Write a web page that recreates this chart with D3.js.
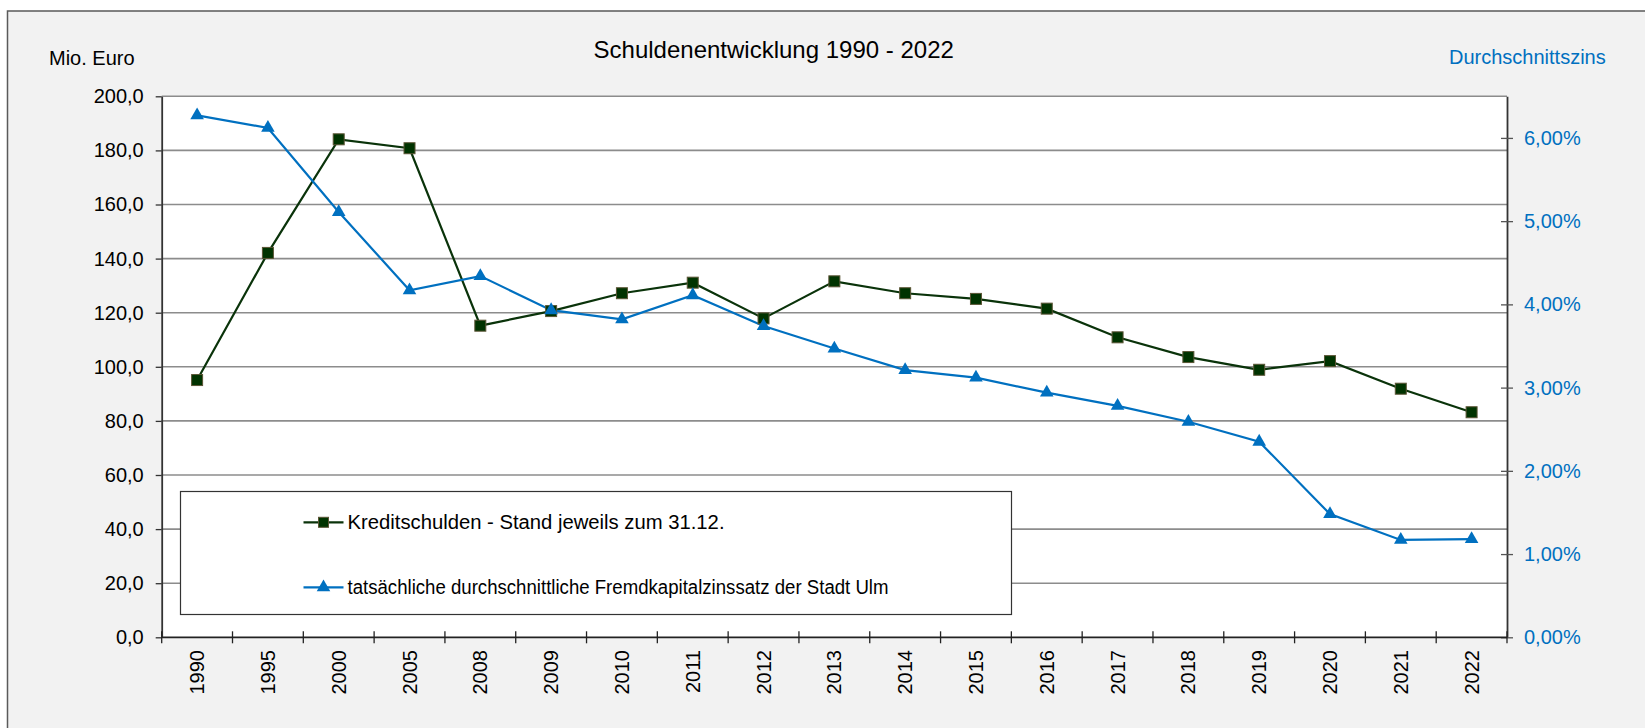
<!DOCTYPE html>
<html>
<head>
<meta charset="utf-8">
<script src="https://cdn.jsdelivr.net/npm/d3@7"></script>
<style>
  html, body { margin: 0; padding: 0; background: #fff; }
  svg { display: block; font-family: "Liberation Sans", Arial, sans-serif; }
</style>
</head>
<body>
<svg id="chart" width="1645" height="728"></svg>
<script>
const years = ["1990","1995","2000","2005","2008","2009","2010","2011","2012","2013","2014","2015","2016","2017","2018","2019","2020","2021","2022"];
const schulden = [95.1, 142.1, 184.1, 180.8, 115.2, 120.6, 127.2, 131.1, 117.9, 131.6, 127.2, 125.1, 121.5, 110.9, 103.6, 98.9, 102.1, 91.9, 83.2];
const zins = [6.27, 6.12, 5.11, 4.17, 4.34, 3.93, 3.82, 4.11, 3.74, 3.47, 3.21, 3.12, 2.94, 2.78, 2.59, 2.35, 1.48, 1.17, 1.18];
const leftTicks = [0, 20, 40, 60, 80, 100, 120, 140, 160, 180, 200];
const rightTicks = [0, 1, 2, 3, 4, 5, 6];
const title = "Schuldenentwicklung 1990 - 2022";
const leftTitle = "Mio. Euro";
const rightTitle = "Durchschnittszins";
const seriesNames = ["Kreditschulden - Stand jeweils zum 31.12.", "tatsächliche durchschnittliche Fremdkapitalzinssatz der Stadt Ulm"];

const GREEN = "#0a330a", SQFILL = "#003300", SQSTROKE = "#5b5535", BLUE = "#0070c0";
const L = 161.7, R = 1507, T = 96.3, B = 637.3;

const svg = d3.select("#chart");
svg.append("rect").attr("x", 0).attr("y", 0).attr("width", 1645).attr("height", 728).attr("fill", "#fff");
svg.append("rect").attr("x", 7.5).attr("y", 11).attr("width", 1700).attr("height", 800)
  .attr("fill", "#f2f2f2").attr("stroke", "#5a5a5a").attr("stroke-width", 1.5);

const x = d3.scaleBand().domain(years).range([L, R]).padding(0);
const yL = d3.scaleLinear().domain([0, 200]).range([B, T]);
const yR = d3.scaleLinear().domain([0, 6.5]).range([B, T]);
const fmtL = v => d3.format(".1f")(v).replace(".", ",");
const fmtR = v => d3.format(".2f")(v).replace(".", ",") + "%";

// plot area
svg.append("rect").attr("x", L).attr("y", T).attr("width", R - L).attr("height", B - T).attr("fill", "#fff");

// gridlines
svg.append("g").selectAll("line").data(leftTicks.filter(d => d > 0)).join("line")
  .attr("x1", L).attr("x2", R).attr("y1", d => yL(d)).attr("y2", d => yL(d))
  .attr("stroke", "#8c8c8c").attr("stroke-width", 1.6);

// left axis
const gL = svg.append("g").attr("transform", `translate(${L},0)`)
  .call(d3.axisLeft(yL).tickValues(leftTicks).tickFormat(fmtL).tickSizeInner(6).tickSizeOuter(0).tickPadding(12));
gL.select(".domain").attr("stroke", "#333").attr("stroke-width", 1.8);
gL.selectAll(".tick line").attr("stroke", "#333").attr("stroke-width", 1.3);
gL.selectAll(".tick text").attr("font-size", 20).attr("fill", "#000").attr("font-family", "Liberation Sans, Arial, sans-serif");

// right axis
const gR = svg.append("g").attr("transform", `translate(${R},0)`)
  .call(d3.axisRight(yR).tickValues(rightTicks).tickFormat(fmtR).tickSizeInner(6).tickSizeOuter(0).tickPadding(11));
gR.select(".domain").attr("stroke", "#333").attr("stroke-width", 1.8);
gR.selectAll(".tick line").attr("x1", -6).attr("stroke", "#555").attr("stroke-width", 1.3);
gR.selectAll(".tick text").attr("font-size", 20).attr("fill", BLUE).attr("font-family", "Liberation Sans, Arial, sans-serif");

// bottom axis
svg.append("line").attr("x1", L).attr("x2", R).attr("y1", B).attr("y2", B).attr("stroke", "#222").attr("stroke-width", 1.8);
const bounds = years.map(d => x(d)).concat([x(years[years.length - 1]) + x.bandwidth()]);
svg.append("g").selectAll("line").data(bounds).join("line")
  .attr("x1", d => d).attr("x2", d => d).attr("y1", B - 6).attr("y2", B + 6)
  .attr("stroke", "#222").attr("stroke-width", 1.3);
svg.append("g").selectAll("text").data(years).join("text")
  .attr("transform", d => `translate(${x(d) + x.bandwidth() / 2},650) rotate(-90)`)
  .attr("text-anchor", "end").attr("dy", "0.35em").attr("font-size", 20).attr("fill", "#000")
  .text(d => d);

// legend
svg.append("rect").attr("x", 180.5).attr("y", 491.5).attr("width", 831).attr("height", 123)
  .attr("fill", "#fff").attr("stroke", "#333").attr("stroke-width", 1.2);

// lines
const cx = (d, i) => x(years[i]) + x.bandwidth() / 2;
svg.append("path").datum(schulden)
  .attr("d", d3.line().x((d, i) => cx(d, i)).y(d => yL(d)))
  .attr("fill", "none").attr("stroke", GREEN).attr("stroke-width", 2.2);
svg.append("path").datum(zins)
  .attr("d", d3.line().x((d, i) => cx(d, i)).y(d => yR(d)))
  .attr("fill", "none").attr("stroke", BLUE).attr("stroke-width", 2.2);

const sq = 11;
svg.append("g").selectAll("rect").data(schulden).join("rect")
  .attr("x", (d, i) => cx(d, i) - sq / 2).attr("y", d => yL(d) - sq / 2)
  .attr("width", sq).attr("height", sq)
  .attr("fill", SQFILL).attr("stroke", SQSTROKE).attr("stroke-width", 1);
const tri = d3.symbol().type(d3.symbolTriangle).size(80);
svg.append("g").selectAll("path").data(zins).join("path")
  .attr("transform", (d, i) => `translate(${cx(d, i)},${yR(d)})`)
  .attr("d", tri).attr("fill", BLUE);

// legend entries
const legY = [522.3, 587.3];
const legW = [377, 541];
svg.append("line").attr("x1", 303.5).attr("x2", 343.5).attr("y1", legY[0]).attr("y2", legY[0]).attr("stroke", GREEN).attr("stroke-width", 2.2);
svg.append("rect").attr("x", 323.5 - 5).attr("y", legY[0] - 5).attr("width", 10).attr("height", 10).attr("fill", SQFILL).attr("stroke", SQSTROKE).attr("stroke-width", 1);
svg.append("line").attr("x1", 303.5).attr("x2", 343.5).attr("y1", legY[1]).attr("y2", legY[1]).attr("stroke", BLUE).attr("stroke-width", 2.2);
svg.append("path").attr("transform", `translate(323.5,${legY[1]})`).attr("d", tri).attr("fill", BLUE);
svg.append("g").selectAll("text").data(seriesNames).join("text")
  .attr("x", 347.5).attr("y", (d, i) => legY[i]).attr("dy", "0.35em")
  .attr("font-size", 20).attr("fill", "#000")
  .attr("textLength", (d, i) => legW[i]).attr("lengthAdjust", "spacingAndGlyphs")
  .text(d => d);

// titles
svg.append("text").attr("x", 773.7).attr("y", 57.7).attr("text-anchor", "middle")
  .attr("font-size", 24).attr("fill", "#000").text(title);
svg.append("text").attr("x", 49).attr("y", 65).attr("font-size", 20).attr("fill", "#000").text(leftTitle);
svg.append("text").attr("x", 1449).attr("y", 64.3).attr("font-size", 20).attr("fill", BLUE).text(rightTitle);
</script>
</body>
</html>
